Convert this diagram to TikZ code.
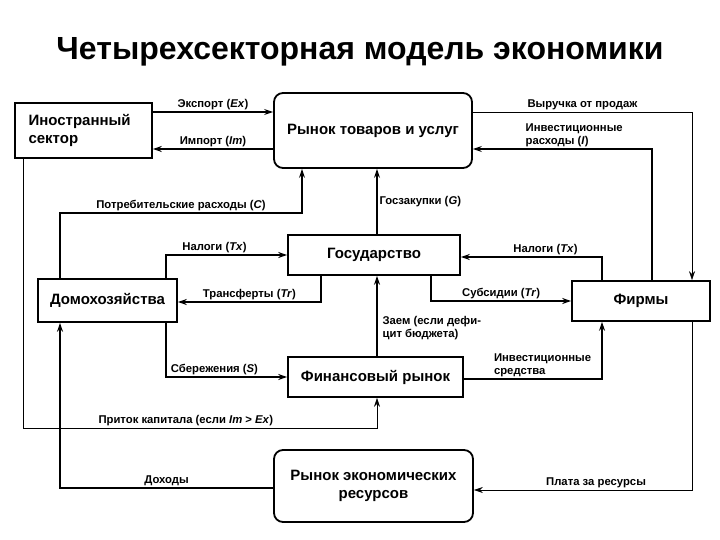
\documentclass[tikz,border=0pt]{standalone}
\usepackage{fontspec}
\setmainfont{Liberation Sans}
\usetikzlibrary{arrows.meta}

\begin{document}
\begin{tikzpicture}[x=1pt,y=-1pt,
    box/.style={draw, line width=1.6pt, inner sep=2pt,
      font=\bfseries\fontsize{15}{17.5}\selectfont},
    rbox/.style={box, rounded corners=9pt, line width=1.8pt},
    flow/.style={line width=1.2pt, -{Stealth[length=9pt,width=6pt]}},
    thinflow/.style={flow, line width=0.6pt},
    lbl/.style={font=\bfseries\fontsize{11.3}{13}\selectfont, inner sep=2pt}]
  \useasboundingbox (0,0) rectangle (720,540);

  % title
  \node[font=\bfseries\fontsize{32}{38}\selectfont] (title) at (360,52)
    {Четырехсекторная модель экономики};

  % sectors and markets
  \node[box, minimum width=137pt, minimum height=55pt, text width=110pt,
    align=left] (foreign) at (83.5,130.5) {Иностранный\\сектор};
  \node[rbox, minimum width=198pt, minimum height=75pt] (goods) at (373,130.5)
    {Рынок товаров и услуг};
  \node[box, minimum width=172pt, minimum height=40pt] (gov) at (374,255)
    {Государство};
  \node[box, minimum width=139pt, minimum height=43pt] (house) at (107.5,300.5)
    {Домохозяйства};
  \node[box, minimum width=138pt, minimum height=40pt] (firms) at (641,301)
    {Фирмы};
  \node[box, minimum width=175pt, minimum height=40pt] (fin) at (375.5,377)
    {Финансовый рынок};
  \node[rbox, minimum width=199pt, minimum height=72pt, align=center] (res)
    at (373.5,486) {Рынок экономических\\ресурсов};

  % foreign trade
  \draw[flow] (foreign.east |- 0,112) -- (goods.west |- 0,112)
    node[lbl, midway, above] {Экспорт (\textit{Ex})};
  \draw[flow] (goods.west |- 0,149) -- (foreign.east |- 0,149)
    node[lbl, midway, above] {Импорт (\textit{Im})};

  % goods market and firms
  \draw[thinflow] (goods.east |- 0,112) -| (firms.north -| 692,0)
    node[lbl, pos=0.25, above] {Выручка от продаж};
  \draw[flow] (firms.north -| 652,0) |- (goods.east |- 0,149)
    node[lbl, pos=0.86, anchor=south west, align=left]
    {Инвестиционные\\расходы (\textit{I})};

  % households and goods market
  \draw[flow] (house.north -| 60,0) -- (60,213) -| (goods.south -| 302,0)
    node[lbl, pos=0.25, above] {Потребительские расходы (\textit{C})};
  \draw[flow] (gov.north -| 377,0) -- (goods.south -| 377,0)
    node[lbl, midway, right] {Госзакупки (\textit{G})};

  % state
  \draw[flow] (house.north -| 166,0) |- (gov.west)
    node[lbl, pos=0.7, above] {Налоги (\textit{Tx})};
  \draw[flow] (gov.south -| 321,0) |- (house.east |- 0,302)
    node[lbl, pos=0.75, above] {Трансферты (\textit{Tr})};
  \draw[flow] (firms.north -| 602,0) |- (gov.east |- 0,257)
    node[lbl, pos=0.7, above] {Налоги (\textit{Tx})};
  \draw[flow] (gov.south -| 431,0) |- (firms.west)
    node[lbl, pos=0.75, above] {Субсидии (\textit{Tr})};

  % financial market
  \draw[flow] (fin.north -| 377,0) -- (gov.south -| 377,0)
    node[lbl, pos=0.35, anchor=west, align=left, xshift=3pt]
    {Заем (если дефи-\\цит бюджета)};
  \draw[flow] (house.south -| 166,0) |- (fin.west)
    node[lbl, pos=0.7, above] {Сбережения (\textit{S})};
  \draw[flow] (fin.east |- 0,379) -| (firms.south -| 602,0)
    node[lbl, pos=0.1, anchor=south west, align=left]
    {Инвестиционные\\средства};
  \draw[thinflow] (foreign.south -| 23,0) -- (23,428) -| (fin.south -| 377,0)
    node[lbl, pos=0.23, above] {Приток капитала (если \textit{Im} > \textit{Ex})};

  % resource market
  \draw[flow] (res.west |- 0,488) -| (house.south -| 60,0)
    node[lbl, pos=0.25, above] {Доходы};
  \draw[thinflow] (firms.south -| 692,0) |- (res.east |- 0,490)
    node[lbl, pos=0.72, above] {Плата за ресурсы};
\end{tikzpicture}
\end{document}
